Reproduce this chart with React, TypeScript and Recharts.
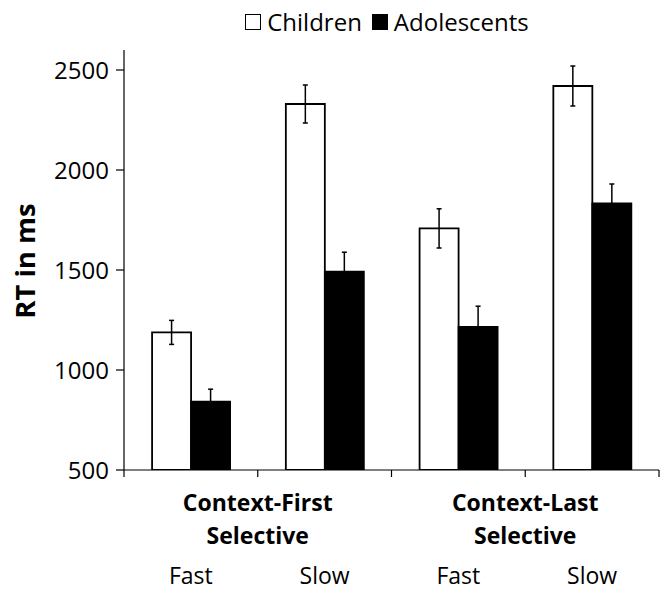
import { BarChart, Bar, XAxis, YAxis, ErrorBar, Legend, Label } from 'recharts'

const conditions = ['Fast', 'Slow', 'Fast', 'Slow']
const groupOf = ['Context-First', 'Context-First', 'Context-Last', 'Context-Last']
const groupSub = 'Selective'

const children = [1188, 2330, 1708, 2420]
const childrenErr = [60, 95, 98, 100]
const adolescents = [842, 1492, 1216, 1833]
const adolescentsErr = [62, 97, 103, 97]

const yTicks = [500, 1000, 1500, 2000, 2500]

const data = conditions.map((c, i) => ({
  condition: c,
  group: groupOf[i],
  children: children[i],
  childrenErr: childrenErr[i],
  adolescents: adolescents[i],
  adolescentsErr: adolescentsErr[i],
}))

const FONT = '"Open Sans", sans-serif'

// eslint-disable-next-line @typescript-eslint/no-explicit-any
function ConditionTick(props: any) {
  const { x, y, payload, index } = props
  const half = payload.offset ?? 0
  const grp = groupOf[index]
  const isGroupStart = index === 0 || groupOf[index - 1] !== grp
  const gx = x + half
  return (
    <g>
      <line x1={x - half} y1={y} x2={x - half} y2={y + 7} stroke="#000" strokeWidth={1.2} />
      {index === conditions.length - 1 && (
        <line x1={x + half} y1={y} x2={x + half} y2={y + 7} stroke="#000" strokeWidth={1.2} />
      )}
      {isGroupStart && (
        <text x={gx} y={y + 32} textAnchor="middle" dominantBaseline="central"
          fontFamily={FONT} fontWeight="bold" fontSize={23} fill="#000">
          <tspan x={gx} dy={0}>{grp}</tspan>
          <tspan x={gx} dy={33}>{groupSub}</tspan>
        </text>
      )}
      <text x={x} y={y + 105} textAnchor="middle" dominantBaseline="central"
        fontFamily={FONT} fontSize={23} fill="#000">
        {payload.value}
      </text>
    </g>
  )
}

function LegendContent() {
  const box = (fill: string) => (
    <span style={{
      display: 'inline-block', width: 14, height: 14, background: fill,
      border: '1.5px solid #000', marginRight: 6,
    }} />
  )
  return (
    <div style={{
      display: 'flex', justifyContent: 'center', alignItems: 'center',
      fontFamily: FONT, fontSize: 24, lineHeight: '28px', color: '#000',
    }}>
      {box('#fff')}<span style={{ marginRight: 10 }}>Children</span>
      {box('#000')}<span>Adolescents</span>
    </div>
  )
}

export default function App() {
  return (
    <div style={{ position: 'absolute', left: 0, top: 0, width: 671, height: 592, background: '#fff' }}>
      <BarChart
        width={671}
        height={592}
        data={data}
        margin={{ top: 50, right: 12, bottom: 0, left: 0 }}
        barGap={0}
        barCategoryGap="21%"
      >
        <Legend
          layout="horizontal"
          verticalAlign="middle"
          align="center"
          wrapperStyle={{ top: 8, left: 124, width: 526 }}
          content={<LegendContent />}
        />
        <XAxis
          dataKey="condition"
          height={122}
          axisLine={{ stroke: '#000', strokeWidth: 1.2 }}
          tickLine={false}
          tickSize={0}
          tickMargin={0}
          tick={<ConditionTick />}
          interval={0}
        />
        <YAxis
          domain={[500, 2600]}
          ticks={yTicks}
          width={124}
          axisLine={{ stroke: '#000', strokeWidth: 1.2 }}
          tickLine={{ stroke: '#000', strokeWidth: 1.2 }}
          tickSize={8}
          tickMargin={7}
          tick={{ fill: '#000', fontSize: 24, fontFamily: FONT }}
          allowDataOverflow
        >
          <Label
            content={({ viewBox }: any) => {
              const cx = 24
              const cy = viewBox.y + viewBox.height / 2 + 1
              return (
                <text x={cx} y={cy} transform={`rotate(-90, ${cx}, ${cy})`} textAnchor="middle"
                  dominantBaseline="central" fontFamily={FONT} fontWeight="bold" fontSize={27.5} fill="#000">
                  RT in ms
                </text>
              )
            }}
          />
        </YAxis>
        <Bar dataKey="children" fill="#fff" stroke="#000" strokeWidth={1.8} isAnimationActive={false}>
          <ErrorBar dataKey="childrenErr" width={2.5} stroke="#000" strokeWidth={1.5} />
        </Bar>
        <Bar dataKey="adolescents" fill="#000" stroke="#000" strokeWidth={1.8} isAnimationActive={false}>
          <ErrorBar dataKey="adolescentsErr" width={2.5} stroke="#000" strokeWidth={1.5} />
        </Bar>
      </BarChart>
    </div>
  )
}
